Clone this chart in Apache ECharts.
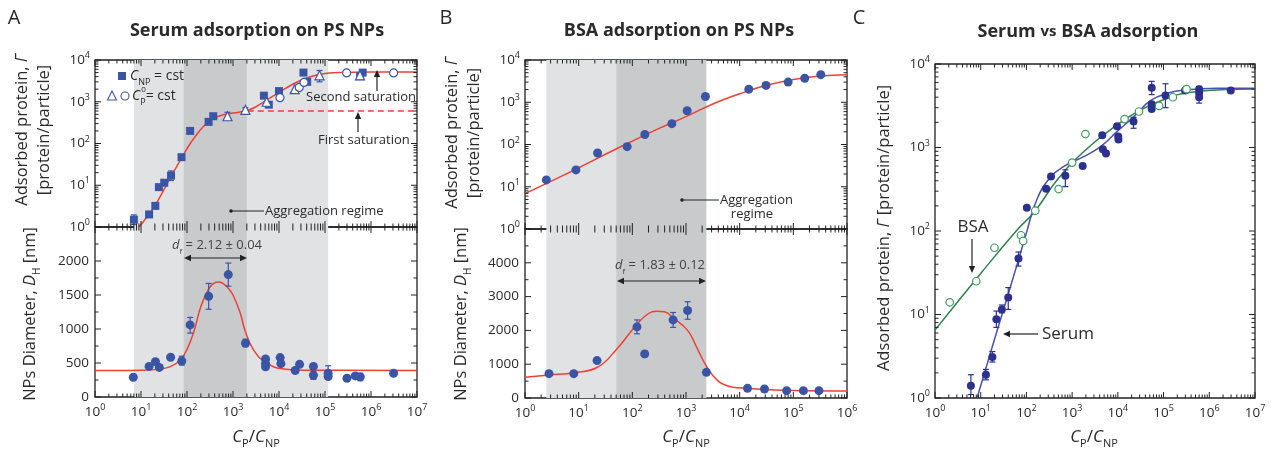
<!DOCTYPE html>
<html><head><meta charset="utf-8">
<script src="https://cdn.jsdelivr.net/npm/echarts@6/dist/echarts.min.js"></script>
<style>html,body{margin:0;padding:0;background:#fff}#c{width:1271px;height:458px}</style>
</head><body><div id="c"></div>
<script>
// ---------- DATA ----------
// Panel A (serum on PS NPs), top: adsorbed protein
const aSquares = [[7,1.5],[15,2.0],[20.5,3.2],[24.5,9.0],[32,11.5],[45,17],[76,47],[117,200],[295,330],[372,450],[4700,1400],[6000,850],[10000,1800],[34000,5000],[41000,3000],[580000,4100],[660000,5000]];
const aTriangles = [[760,450],[1860,640],[5400,1000],[22000,2000],[76000,4300],[575000,4300]];
const aCircles = [[10500,1250],[27500,2200],[35000,2900],[295000,4900],[3100000,4900]];
const aTopErr = [[7,1.15,1.95],[45,13,22],[760,390,560],[1860,570,720],[76000,3000,5600],[580000,3500,4700]];
const aTopFit = [[9.1,1],[14.8,2.0],[20.4,3.3],[31.6,7.9],[44.7,15.8],[75.9,44.7],[117.5,100],[158.5,158],[224,251],[316,355],[501,457],[1000,537],[1995,610],[3162,759],[5012,1047],[10000,1660],[19953,2630],[39811,3715],[79433,4571],[199526,5012],[1000000,5129],[10000000,5129]];
const aFirstSat = [[2100,600],[10000000,600]];
// Panel A bottom: hydrodynamic diameter
const aDiam = [[6.8,290],[15,450],[20.6,520],[25,435],[44,585],[77,530],[117,1060],[296,1480],[790,1800],[1870,790],[5100,560],[5100,495],[5100,445],[10600,580],[11000,490],[22500,390],[28000,480],[56000,450],[56000,320],[117000,350],[117000,300],[300000,275],[455000,310],[585000,295],[3100000,350]];
const aDiamErr = [[77,470,600],[117,940,1170],[296,1290,1670],[790,1630,1970],[1870,740,850],[56000,260,380],[117000,260,460],[585000,240,350]];
const aDiamFit = [[1,390],[10,392],[25.1,410],[44.7,450],[70.8,540],[100,700],[141,960],[200,1330],[295,1590],[380,1670],[479,1690],[603,1670],[794,1600],[1000,1500],[1413,1250],[1862,960],[2818,690],[5370,500],[12589,412],[39811,393],[10000000,390]];
// Panel B (BSA on PS NPs)
const bAds = [[2.5,14.5],[8.9,25],[22.5,63],[80,89],[171,172],[545,311],[1050,630],[2300,1370],[14800,2040],[31000,2500],[80000,3000],[163000,3700],[325000,4500]];
const bAdsFit = [[1,6.9],[3.16,13.8],[10,28.2],[31.6,58.9],[100,120],[316,240],[1000,457],[3162,912],[10000,1585],[31623,2512],[100000,3467],[316228,4169],[1000000,4467]];
const bDiam = [[2.8,721],[8.1,721],[22,1106],[122,2104],[170,1304],[575,2311],[1070,2588],[2400,760],[14000,286],[29000,267],[75000,217],[154000,217],[300000,217]];
const bDiamErr = [[122,1900,2310],[170,1220,1390],[575,2090,2530],[1070,2330,2850]];
const bDiamFit = [[1,612],[2.82,680],[8.13,750],[22.4,910],[50.1,1430],[123,2190],[200,2500],[282,2570],[398,2550],[575,2370],[1072,2000],[1585,1500],[2400,940],[3981,500],[6310,350],[10000,300],[31623,250],[100000,220],[1000000,205]];
// Panel C (serum vs BSA)
const cSerum = [[6.1,1.4],[13,1.9],[18,3.1],[22,8.8],[29,11.5],[40,16],[67,47],[102,190],[270,320],[345,450],[710,460],[1700,600],[4560,1400],[4700,950],[5500,850],[9600,1800],[10200,1350],[10300,1250],[22000,2050],[55000,5200],[55000,3300],[55000,2900],[110000,4200],[295000,4800],[600000,5000],[600000,4500],[600000,4000],[2950000,4800]];
const cSerumErr = [[6.1,1.1,1.9],[13,1.65,2.2],[18,2.7,3.6],[22,7.0,11],[29,10.5,13],[40,11.5,21],[67,38,56],[710,340,540],[22000,1700,2300],[55000,4300,6200],[110000,3000,5800],[600000,4200,5400],[600000,3400,4600]];
const cBsa = [[2.1,14],[8,25],[20,63],[76,89],[85,76],[156,175],[505,318],[1000,660],[1950,1450],[14000,2190],[29000,2700],[80000,3150],[160000,4000],[318000,5000]];
const cSerumFit = [[8.3,1],[25.1,7.6],[67.6,45.7],[100,95.5],[170,240],[331,437],[646,589],[1778,776],[4169,1023],[9550,1549],[22387,2344],[51286,3631],[120226,4467],[281838,4898],[1500000,5129],[10000000,5129]];
const cBsaFit = [[1,6.5],[10,31],[61.7,102],[155,174],[468,407],[1778,891],[9550,1862],[31623,2818],[120226,3890],[281838,4467],[1500000,4898],[10000000,5012]];
// shaded regimes
const aLightBand = [7,117000];
const aDarkBand = [85,2000];
const bLightBand = [2.5,50];
const bDarkBand = [50,2400];

// ---------- STYLE ----------
const F = '"Open Sans", "DejaVu Sans", sans-serif';
const TXT = '#2a2a2a';
const BLUE = '#3a55a5';
const NAVY = '#2c3190';
const RED = '#ee4035';
const GREEN = '#2f7f4f';
const GREEN_M = '#3b9a5c';
const LIGHT = '#e1e2e4';
const DARK = '#c9cacc';

const chart = echarts.init(document.getElementById('c'), null, {renderer:'canvas'});

const grids = [
  {left:95, top:60, width:322, height:167},
  {left:95, top:227, width:322, height:170},
  {left:525, top:60, width:322, height:169},
  {left:525, top:229, width:322, height:169},
  {left:935, top:64, width:320, height:334}
].map(g => Object.assign(g, {show:true, borderColor:'#222', borderWidth:1.3, backgroundColor:'transparent', containLabel:false}));

const logLabel = {
  formatter: v => '{b|10}{p|' + Math.round(Math.log10(v)) + '}',
  rich: {
    b:{fontSize:13.5, fontFamily:F, color:TXT, lineHeight:18},
    p:{fontSize:9, fontFamily:F, color:TXT, lineHeight:18, verticalAlign:'top'}
  }
};
function xAx(gi, max, showLabel){
  return {type:'log', gridIndex:gi, logBase:10, min:1, max:max, splitNumber: Math.round(Math.log10(max)),
    axisLine:{show:false}, axisTick:{show:false}, splitLine:{show:false},
    axisLabel: Object.assign({show:showLabel, margin:6}, logLabel)};
}
function yLog(gi){
  return {type:'log', gridIndex:gi, logBase:10, min:1, max:10000, splitNumber:4,
    axisLine:{show:false}, axisTick:{show:false}, splitLine:{show:false},
    axisLabel: Object.assign({margin:5}, logLabel)};
}
function yLin(gi, max, step){
  return {type:'value', gridIndex:gi, min:0, max:max, interval:step,
    axisLine:{show:false}, axisTick:{show:false}, splitLine:{show:false},
    axisLabel:{showMaxLabel:false, margin:6, fontSize:13.5, fontFamily:F, color:TXT, formatter: v => String(v)}};
}

function tickVals(r){
  const out=[];
  if(r.log){
    const e0=Math.round(Math.log10(r.min)), e1=Math.round(Math.log10(r.max));
    for(let e=e0;e<=e1;e++){
      out.push([Math.pow(10,e),6]);
      if(e<e1) for(let m=2;m<=9;m++) out.push([m*Math.pow(10,e),3.5]);
    }
  } else {
    for(let v=r.min; v<=r.max+1e-9; v+=r.minor) out.push([v, (Math.abs(v % r.major) < 1e-9) ? 6 : 3.5]);
  }
  return out;
}
function ln(x1,y1,x2,y2,c,w){return {type:'line',shape:{x1,y1,x2,y2},style:{stroke:c||'#222',lineWidth:w||1}};}
function tickSeries(gi, xr, yr){
  return {type:'custom', xAxisIndex:gi, yAxisIndex:gi, z:20, silent:true,
    data:[[xr.min, yr.min]], encode:{x:0,y:1},
    renderItem:(p, api)=>{
      const ch=[];
      const a=api.coord([xr.min,yr.min]), b=api.coord([xr.max,yr.max]);
      const x0=a[0], x1=b[0], yb=a[1], yt=b[1];
      tickVals(xr).forEach(([v,l])=>{const x=api.coord([v,yr.min])[0]; ch.push(ln(x,yb,x,yb-l)); ch.push(ln(x,yt,x,yt+l));});
      tickVals(yr).forEach(([v,l])=>{const y=api.coord([xr.min,v])[1]; ch.push(ln(x0,y,x0+l,y)); ch.push(ln(x1,y,x1-l,y));});
      return {type:'group', children:ch};
    }};
}
function errSeries(gi, data, color){
  return {type:'custom', xAxisIndex:gi, yAxisIndex:gi, z:3, silent:true, data:data, encode:{x:0,y:[1,2]},
    renderItem:(p, api)=>{
      const x=api.value(0), lo=api.value(1), hi=api.value(2);
      const a=api.coord([x,lo]), b=api.coord([x,hi]);
      return {type:'group', children:[ln(a[0],a[1],b[0],b[1],color,1.2), ln(a[0]-3,a[1],a[0]+3,a[1],color,1.2), ln(b[0]-3,b[1],b[0]+3,b[1],color,1.2)]};
    }};
}
function band(gi, range, color){
  return {type:'line', xAxisIndex:gi, yAxisIndex:gi, z:0, data:[], silent:true,
    markArea:{silent:true, itemStyle:{color:color}, data:[[{xAxis:range[0]},{xAxis:range[1]}]]}};
}
function fit(gi, data, color, dashed){
  return {type:'line', xAxisIndex:gi, yAxisIndex:gi, z:2, data:data, showSymbol:false, symbol:'none', smooth:dashed?false:0.45, silent:true,
    lineStyle:{color:color, width:1.5, type: dashed ? [6,4] : 'solid'}};
}
function pts(gi, data, symbol, size, fill, stroke){
  return {type:'scatter', xAxisIndex:gi, yAxisIndex:gi, z:4, data:data, symbol:symbol, symbolSize:size, silent:true,
    itemStyle:{color:fill, borderColor:stroke||fill, borderWidth: stroke?1.2:0, opacity:1}};
}

const xA={log:true,min:1,max:1e7}, xB={log:true,min:1,max:1e6}, yL={log:true,min:1,max:1e4};
const series = [
  band(0,aLightBand,LIGHT), band(0,aDarkBand,DARK),
  fit(0,aTopFit,RED), fit(0,aFirstSat,RED,true),
  errSeries(0,aTopErr,BLUE),
  pts(0,aSquares,'rect',8,BLUE), pts(0,aTriangles,'triangle',9,'#fff',BLUE), pts(0,aCircles,'circle',8,'#fff',BLUE),
  tickSeries(0,xA,yL),

  band(1,aLightBand,LIGHT), band(1,aDarkBand,DARK),
  fit(1,aDiamFit,RED), errSeries(1,aDiamErr,BLUE), pts(1,aDiam,'circle',9,BLUE),
  tickSeries(1,xA,{log:false,min:0,max:2500,major:500,minor:250}),

  band(2,bLightBand,LIGHT), band(2,bDarkBand,DARK),
  fit(2,bAdsFit,RED), pts(2,bAds,'circle',9,BLUE),
  tickSeries(2,xB,yL),

  band(3,bLightBand,LIGHT), band(3,bDarkBand,DARK),
  fit(3,bDiamFit,RED), errSeries(3,bDiamErr,BLUE), pts(3,bDiam,'circle',9,BLUE),
  tickSeries(3,xB,{log:false,min:0,max:5000,major:1000,minor:500}),

  fit(4,cBsaFit,GREEN), fit(4,cSerumFit,'#4a50b0'),
  errSeries(4,cSerumErr,NAVY), pts(4,cSerum,'circle',8,NAVY), pts(4,cBsa,'circle',7.5,'#fff',GREEN_M),
  tickSeries(4,xA,yL)
];

// ---------- TEXT / ANNOTATIONS ----------
function rich(size, color){
  const c=color||TXT, lh=size+8;
  return {
    n:{fontSize:size, fontFamily:F, fill:c, lineHeight:lh},
    i:{fontSize:size, fontFamily:F, fill:c, fontStyle:'italic', lineHeight:lh},
    s:{fontSize:Math.round(size*0.62), fontFamily:F, fill:c, verticalAlign:'bottom', lineHeight:lh},
    u:{fontSize:Math.round(size*0.62), fontFamily:F, fill:c, verticalAlign:'top', lineHeight:lh},
    b:{fontSize:size, fontFamily:F, fill:c, fontWeight:'bold', lineHeight:lh},
    v:{fontSize:Math.round(size*0.85), fontFamily:F, fill:c, fontWeight:'bold', lineHeight:lh}
  };
}
function T(x,y,text,size,opt){
  opt=opt||{};
  return {type:'text', x:x, y:y, rotation:opt.rot||0, z:100, silent:true,
    style:{text:text, rich:rich(size,opt.color), fontSize:size, fontFamily:F, fill:opt.color||TXT,
      align:opt.align||'center', verticalAlign:'middle'}};
}
function arrowHead(x,y,dir,c){
  const s=3.2, L=7; let p;
  if(dir==='up') p=[[x,y],[x-s,y+L],[x+s,y+L]];
  else if(dir==='down') p=[[x,y],[x-s,y-L],[x+s,y-L]];
  else if(dir==='left') p=[[x,y],[x+L,y-s],[x+L,y+s]];
  else p=[[x,y],[x-L,y-s],[x-L,y+s]];
  return {type:'polygon', z:100, silent:true, shape:{points:p}, style:{fill:c||'#222'}};
}
function G(el){ el.z=100; el.silent=true; return el; }

const graphics = [
  // panel letters & titles
  T(14,18,'{n|A}',20), T(446,18,'{n|B}',20), T(859,18,'{n|C}',20),
  T(257,31,'{b|Serum adsorption on PS NPs}',18), T(679,31,'{b|BSA adsorption on PS NPs}',18),
  T(1088,32,'{b|Serum }{v|vs}{b| BSA adsorption}',18),
  // y-axis names
  T(22,130,'{n|Adsorbed protein, }{i|Γ}',16.5,{rot:Math.PI/2}),
  T(44,130,'{n|[protein/particle]}',16.5,{rot:Math.PI/2}),
  T(30,314,'{n|NPs Diameter, }{i|D}{s|H}{n| [nm]}',16.5,{rot:Math.PI/2}),
  T(452,133,'{n|Adsorbed protein, }{i|Γ}',16.5,{rot:Math.PI/2}),
  T(474,133,'{n|[protein/particle]}',16.5,{rot:Math.PI/2}),
  T(461,314,'{n|NPs Diameter, }{i|D}{s|H}{n| [nm]}',16.5,{rot:Math.PI/2}),
  T(884,228,'{n|Adsorbed protein, }{i|Γ}{n| [protein/particle]}',16.5,{rot:Math.PI/2}),
  // x-axis names
  T(256,437,'{i|C}{s|P}{n|/}{i|C}{s|NP}',17), T(686,437,'{i|C}{s|P}{n|/}{i|C}{s|NP}',17), T(1094,437,'{i|C}{s|P}{n|/}{i|C}{s|NP}',17),
  // legend A
  G({type:'rect', shape:{x:118,y:72,width:8,height:8}, style:{fill:BLUE}}),
  T(130,76,'{i|C}{s|NP}{n| = cst}',14,{align:'left'}),
  G({type:'polygon', shape:{points:[[112,91],[107.5,100],[116.5,100]]}, style:{fill:'#fff',stroke:BLUE,lineWidth:1.1}}),
  G({type:'circle', shape:{cx:125,cy:96,r:4}, style:{fill:'#fff',stroke:BLUE,lineWidth:1.1}}),
  T(132,96,'{i|C}{s|P}{n|= cst}',14,{align:'left'}),
  T(143.5,90,'{n|0}',8),
  // saturation notes A
  T(306,97,'{n|Second saturation}',13,{align:'left'}),
  G(ln(377,91,377,75,'#222',1.2)), arrowHead(377,70,'up'),
  T(318,140,'{n|First saturation}',13,{align:'left'}),
  G(ln(358,132,358,117,'#222',1.2)), arrowHead(358,112,'up'),
  G({type:'circle', shape:{cx:231,cy:211,r:1.8}, style:{fill:'#222'}}),
  G(ln(231,211,264,211,'#222',1)),
  T(265,211,'{n|Aggregation regime}',13,{align:'left'}),
  // fractal dimension A
  T(217,245,'{i|d}{s|f}{n| = 2.12 ± 0.04}',13,{color:'#444'}),
  G(ln(188,258,243,258,'#222',1.2)), arrowHead(184,258,'left'), arrowHead(247,258,'right'),
  // B annotations
  G({type:'circle', shape:{cx:682,cy:200,r:1.8}, style:{fill:'#222'}}),
  G(ln(682,200,719,200,'#222',1)),
  T(720,200,'{n|Aggregation}',13,{align:'left'}),
  T(752,214,'{n|regime}',13),
  T(660,265,'{i|d}{s|f}{n| = 1.83 ± 0.12}',13,{color:'#444'}),
  G(ln(621,281,702,281,'#222',1.2)), arrowHead(617,281,'left'), arrowHead(706,281,'right'),
  // C annotations
  T(973,227,'{n|BSA}',17),
  G(ln(972,239,972,267,'#222',1.2)), arrowHead(972,273,'down'),
  T(1042,334,'{n|Serum}',17,{align:'left'}),
  G(ln(1038,334,1009,334,'#222',1.2)), arrowHead(1003,334,'left')
];

chart.setOption({
  animation:false,
  backgroundColor:'#fff',
  textStyle:{fontFamily:F},
  grid: grids,
  xAxis:[xAx(0,1e7,false), xAx(1,1e7,true), xAx(2,1e6,false), xAx(3,1e6,true), xAx(4,1e7,true)],
  yAxis:[yLog(0), yLin(1,2500,500), yLog(2), yLin(3,5000,1000), yLog(4)],
  series: series,
  graphic: graphics
});
</script></body></html>
